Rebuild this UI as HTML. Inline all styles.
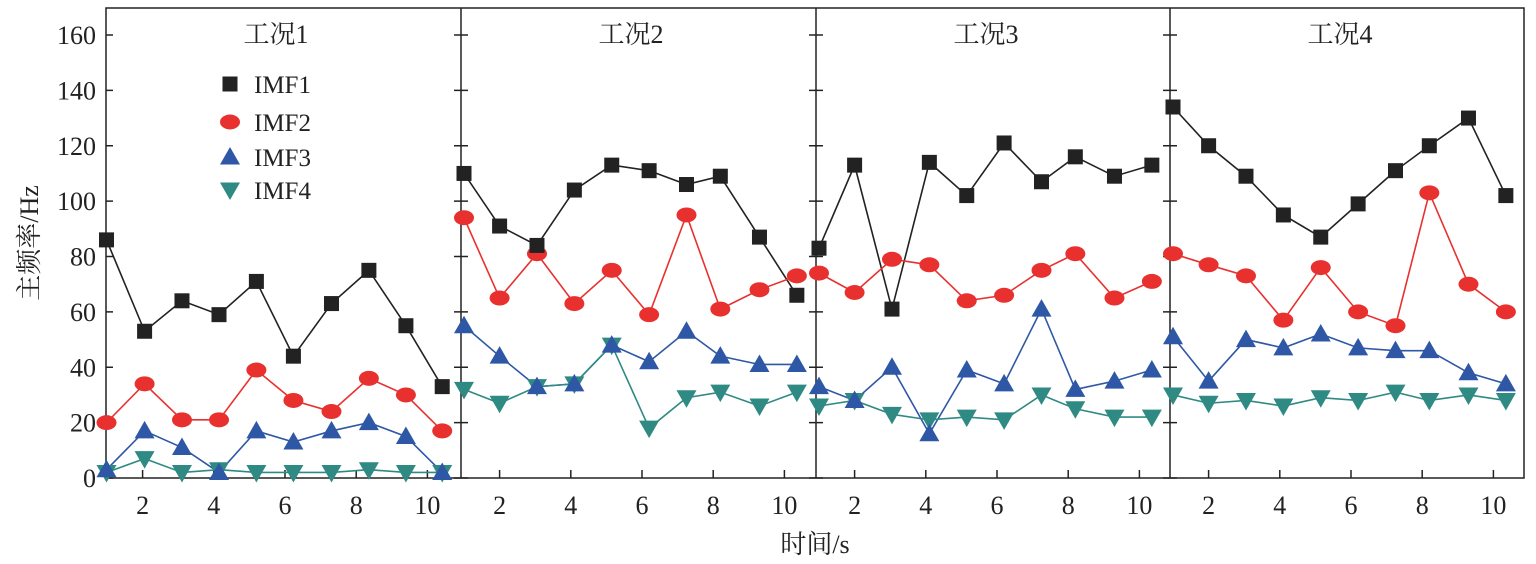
<!DOCTYPE html>
<html><head><meta charset="utf-8"><style>
html,body{margin:0;padding:0;background:#fff;}
svg{display:block;}
text{font-family:"Liberation Serif","Noto Serif CJK SC","Noto Sans CJK SC",serif;fill:#222;}
</style></head><body>
<svg id="chart" width="1536" height="564" viewBox="0 0 1536 564" xmlns="http://www.w3.org/2000/svg"></svg>
<script>
const panelTitles = ["工况1","工况2","工况3","工况4"];
const seriesNames = ["IMF1","IMF2","IMF3","IMF4"];
const yTicks = [0,20,40,60,80,100,120,140,160];
const xTicks = [2,4,6,8,10];
const xP1 = [0.93,2,3.05,4.09,5.14,6.18,7.25,8.3,9.34,10.36];
const xStd = [1,2,3.05,4.1,5.15,6.2,7.25,8.2,9.3,10.35];
const p1imf1 = [86,53,64,59,71,44,63,75,55,33];
const p1imf2 = [20,34,21,21,39,28,24,36,30,17];
const p1imf3 = [3,17,11,2,17,13,17,20,15,2];
const p1imf4 = [2,7,2,3,2,2,2,3,2,2];
const p2imf1 = [110,91,84,104,113,111,106,109,87,66];
const p2imf2 = [94,65,81,63,75,59,95,61,68,73];
const p2imf3 = [55,44,33,34,48,42,53,44,41,41];
const p2imf4 = [32,27,33,34,48,18,29,31,26,31];
const p3imf1 = [83,113,61,114,102,121,107,116,109,113];
const p3imf2 = [74,67,79,77,64,66,75,81,65,71];
const p3imf3 = [33,28,40,16,39,34,61,32,35,39];
const p3imf4 = [26,28,23,21,22,21,30,25,22,22];
const p4imf1 = [134,120,109,95,87,99,111,120,130,102];
const p4imf2 = [81,77,73,57,76,60,55,103,70,60];
const p4imf3 = [51,35,50,47,52,47,46,46,38,34];
const p4imf4 = [30,27,28,26,29,28,31,28,30,28];
const panelData = [[p1imf1,p1imf2,p1imf3,p1imf4],[p2imf1,p2imf2,p2imf3,p2imf4],[p3imf1,p3imf2,p3imf3,p3imf4],[p4imf1,p4imf2,p4imf3,p4imf4]];
const panelX = [xP1,xStd,xStd,xStd];

const NS="http://www.w3.org/2000/svg";
const svg=document.getElementById('chart');
const colors=["#222222","#e8312f","#2e57a6","#2e8a82"];
const plotTop=8,plotBottom=478;
const panelLeft=[106,461,816,1170];
function yS(v){return 478-v*(478-35)/160;}
function xS(p,v){return panelLeft[p]+3+(v-1)*35.6;}
function el(tag,attrs,parent){const e=document.createElementNS(NS,tag);for(const k in attrs)e.setAttribute(k,attrs[k]);(parent||svg).appendChild(e);return e;}
function marker(s,x,y,g){
  const c=colors[s];
  if(s===0)return el('rect',{x:x-7.5,y:y-7.5,width:15,height:15,fill:c},g);
  if(s===1)return el('ellipse',{cx:x,cy:y,rx:10,ry:7.5,fill:c},g);
  if(s===2)return el('polygon',{points:`${x-10},${y+7.5} ${x+10},${y+7.5} ${x},${y-10}`,fill:c},g);
  return el('polygon',{points:`${x-10},${y-7.5} ${x+10},${y-7.5} ${x},${y+10}`,fill:c},g);
}
const frame=el('rect',{x:106,y:plotTop,width:1418,height:plotBottom-plotTop,fill:'none',stroke:'#222','stroke-width':1.5});


for(let p=1;p<4;p++){
  const d=el('line',{x1:panelLeft[p],y1:plotTop,x2:panelLeft[p],y2:plotBottom,stroke:'#222','stroke-width':1.5});
  
  
}
yTicks.forEach(v=>{
  const y=yS(v);
  const t=el('text',{x:96,y:y+9,'text-anchor':'end','font-size':26});
  t.textContent=v;
  
  
  panelLeft.forEach((px,p)=>{
    el('line',{x1:px,y1:y,x2:px+7,y2:y,stroke:'#222','stroke-width':1.5});
    if(p>0)el('line',{x1:px-7,y1:y,x2:px,y2:y,stroke:'#222','stroke-width':1.5});
  });
});
for(let p=0;p<4;p++){
  const g=el('g',{});
  
  
  xTicks.forEach(v=>{
    const x=xS(p,v)+(p===0?-2:0);
    el('line',{x1:x,y1:plotBottom,x2:x,y2:plotBottom-8,stroke:'#222','stroke-width':1.5},g);
    const t=el('text',{x:x,y:514,'text-anchor':'middle','font-size':26},g);
    t.textContent=v;
    
    
  });
  const tt=el('text',{x:panelLeft[p]+170,y:43,'text-anchor':'middle','font-size':26},g);
  tt.textContent=panelTitles[p];
  
  
  for(let s=0;s<4;s++){
    const vals=panelData[p][s],xs=panelX[p];
    const pts=vals.map((v,i)=>xS(p,xs[i])+','+yS(v)).join(' ');
    const l=el('polyline',{points:pts,fill:'none',stroke:colors[s],'stroke-width':1.6},g);
    
    
  }
  for(let s=3;s>=0;s--){
    const vals=panelData[p][s],xs=panelX[p];
    vals.forEach((v,i)=>{
      const m=marker(s,xS(p,xs[i]),yS(v),g);
      
      
    });
  }
}
const lg=el('g',{});


const ly=[84,122,157,190];
seriesNames.forEach((n,s)=>{
  marker(s,230,ly[s],lg);
  const t=el('text',{x:254,y:ly[s]+9,'font-size':25},lg);
  t.textContent=n;
  
  
});
const xt=el('text',{x:815,y:553,'text-anchor':'middle','font-size':26});
xt.textContent='时间/s';


const yt=el('text',{x:0,y:0,'text-anchor':'middle','font-size':26,transform:'translate(38,243) rotate(-90)'});
yt.textContent='主频率/Hz';


</script>
</body></html>
